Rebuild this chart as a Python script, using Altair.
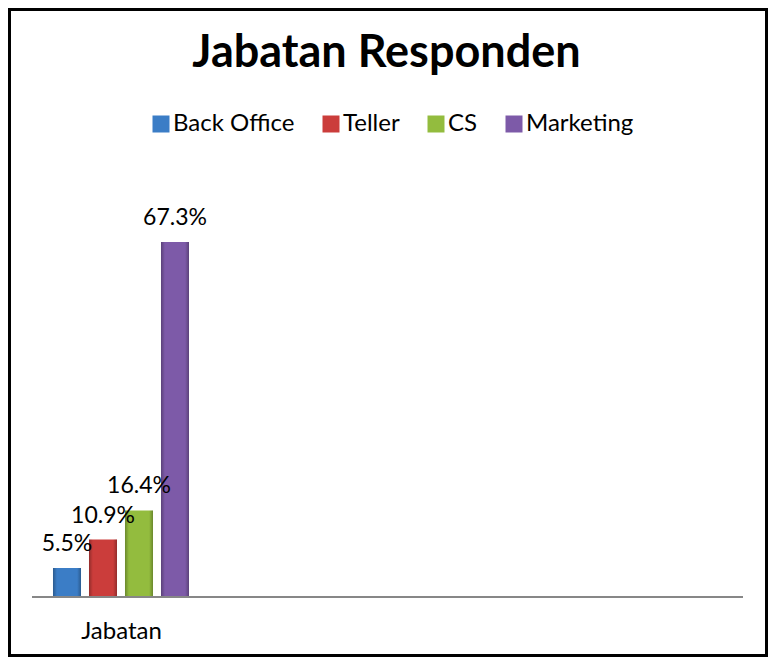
import altair as alt
import pandas as pd

title_text = "Jabatan Responden"
category = "Jabatan"
series = ["Back Office", "Teller", "CS", "Marketing"]
values = [5.5, 10.9, 16.4, 67.3]
labels = ["5.5%", "10.9%", "16.4%", "67.3%"]
colors = ["#3b7dc6", "#cb3d3b", "#93bc3e", "#7d5aa8"]

df = pd.DataFrame({"Series": series, "Value": values, "Label": labels})
base_df = pd.DataFrame({"Base": [0], "Title": [title_text]})

W, H = 711, 422
FONT = "Lato"

xscale = alt.Scale(domain=series, range=[17, 161], paddingInner=0.222, paddingOuter=0.111)
xenc = alt.X(
    "Series:N",
    sort=series,
    scale=xscale,
    axis=alt.Axis(title=category, labels=False, ticks=False, domain=False,
                  titleFont=FONT, titleFontSize=24, titleFontWeight="normal",
                  titleColor="black", titlePadding=22),
)
yenc = alt.Y("Value:Q", scale=alt.Scale(domain=[0, 80]), axis=None)

bars = alt.Chart(df).mark_bar().encode(
    x=xenc,
    y=yenc,
    color=alt.Color(
        "Series:N",
        scale=alt.Scale(domain=series, range=colors),
        legend=alt.Legend(
            title=None, orient="none", direction="horizontal",
            legendX=117, legendY=-63, padding=0,
            symbolType="square", symbolSize=289, symbolStrokeWidth=0,
            labelFont=FONT, labelFontSize=24, labelColor="black",
            labelOffset=0, columnPadding=24,
        ),
    ),
)

shade = alt.Chart(df).mark_bar(
    fill=alt.Gradient(
        gradient="linear", x1=0, x2=1, y1=0, y2=0,
        stops=[
            alt.GradientStop(offset=0, color="rgba(0,0,0,0.28)"),
            alt.GradientStop(offset=0.14, color="rgba(0,0,0,0.0)"),
            alt.GradientStop(offset=0.86, color="rgba(0,0,0,0.0)"),
            alt.GradientStop(offset=1, color="rgba(0,0,0,0.28)"),
        ],
    )
).encode(x=alt.X("Series:N", sort=series), y="Value:Q")

text = alt.Chart(df).mark_text(
    font=FONT, fontSize=23, color="black", baseline="alphabetic", dy=-17
).encode(x=alt.X("Series:N", sort=series), y="Value:Q", text="Label:N")

rule = alt.Chart(base_df).mark_rule(color="#878787", strokeWidth=2).encode(
    y=alt.datum(0), x=alt.value(0), x2=alt.value(W)
)

title = alt.Chart(base_df).mark_text(
    font=FONT, fontSize=45, fontWeight="bold", color="black",
    baseline="alphabetic", align="center"
).encode(x=alt.value(W / 2 - 1), y=alt.value(-108), text="Title:N")

border = alt.Chart(base_df).mark_rect(fill=None, stroke="black", strokeWidth=3).encode(
    x=alt.value(-22.5), x2=alt.value(W + 23.5), y=alt.value(-165.5), y2=alt.value(H + 58.5)
)

chart = alt.layer(bars, shade, text, rule, title, border).properties(
    width=W, height=H,
    autosize=alt.AutoSizeParams(type="none"),
    padding={"left": 24, "top": 167, "right": 25, "bottom": 60},
).configure(background="white", view=alt.ViewConfig(strokeWidth=0, stroke="transparent"))

chart.save("out.html", embed_options={"renderer": "svg", "actions": False})
